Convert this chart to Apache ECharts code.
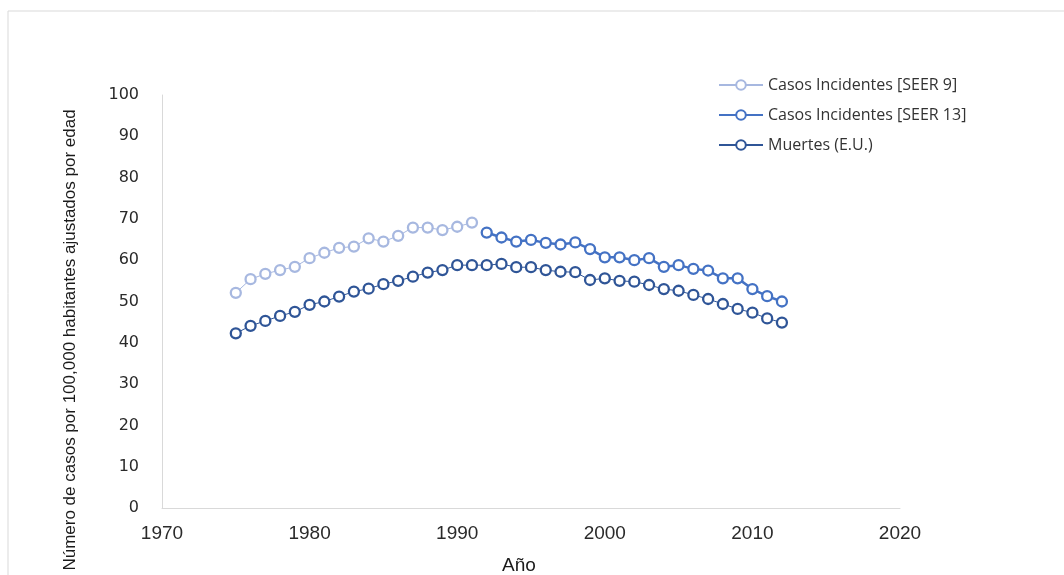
<!DOCTYPE html>
<html>
<head>
<meta charset="utf-8">
<script src="https://cdn.jsdelivr.net/npm/echarts@6/dist/echarts.min.js"></script>
<style>
  html, body { margin: 0; padding: 0; background: #fff; }
  #chart { width: 1064px; height: 575px; }
</style>
</head>
<body>
<div id="chart"></div>
<script>
// Age-adjusted rates per 100,000 inhabitants, by year
const seer9Years = [1975, 1976, 1977, 1978, 1979, 1980, 1981, 1982, 1983, 1984,
                    1985, 1986, 1987, 1988, 1989, 1990, 1991];
const seer9Values = [52.1, 55.4, 56.7, 57.6, 58.4, 60.5, 61.8, 63.0, 63.3, 65.3,
                     64.5, 65.9, 67.9, 67.9, 67.3, 68.1, 69.1];

const seer13Years = [1992, 1993, 1994, 1995, 1996, 1997, 1998, 1999, 2000, 2001,
                     2002, 2003, 2004, 2005, 2006, 2007, 2008, 2009, 2010, 2011, 2012];
const seer13Values = [66.7, 65.5, 64.5, 64.9, 64.2, 63.8, 64.3, 62.7, 60.7, 60.7,
                      60.0, 60.5, 58.4, 58.8, 57.9, 57.5, 55.6, 55.6, 53.0, 51.3, 50.0];

const deathYears = [1975, 1976, 1977, 1978, 1979, 1980, 1981, 1982, 1983, 1984,
                    1985, 1986, 1987, 1988, 1989, 1990, 1991, 1992, 1993, 1994,
                    1995, 1996, 1997, 1998, 1999, 2000, 2001, 2002, 2003, 2004,
                    2005, 2006, 2007, 2008, 2009, 2010, 2011, 2012];
const deathValues = [42.3, 44.1, 45.3, 46.5, 47.5, 49.2, 50.0, 51.2, 52.4, 53.1,
                     54.2, 55.0, 56.0, 57.0, 57.6, 58.8, 58.8, 58.8, 59.1, 58.3,
                     58.3, 57.6, 57.2, 57.1, 55.2, 55.6, 55.0, 54.8, 54.0, 53.0,
                     52.6, 51.6, 50.6, 49.4, 48.2, 47.3, 45.9, 44.9];

const seriesNames = ['Casos Incidentes [SEER 9]', 'Casos Incidentes [SEER 13]', 'Muertes (E.U.)'];
const xTitle = 'Año';
const yTitle = 'Número de casos por 100,000 habitantes ajustados por edad';

const pairs = (xs, ys) => xs.map((x, i) => [x, ys[i]]);

const chart = echarts.init(document.getElementById('chart'), null, { renderer: 'canvas' });

function lineSeries(name, data, color, width) {
  return {
    name: name,
    type: 'line',
    data: data,
    symbol: 'circle',
    symbolSize: 10,
    showSymbol: true,
    itemStyle: { color: '#ffffff', borderColor: color, borderWidth: 2.3 },
    lineStyle: { color: color, width: width },
    emphasis: { disabled: true },
    z: 3
  };
}

chart.setOption({
  animation: false,
  backgroundColor: '#ffffff',
  grid: { left: 162, right: 164, top: 95, bottom: 67, containLabel: false },
  graphic: [
    {
      type: 'rect',
      shape: { x: 8, y: 11, width: 1100, height: 620 },
      style: { fill: 'none', stroke: '#d9d9d9', lineWidth: 1 },
      silent: true
    },
    {
      type: 'text',
      x: 70, y: 340,
      rotation: Math.PI / 2,
      style: {
        text: yTitle,
        fill: '#1a1a1a',
        font: '17px "Liberation Sans", Arial, sans-serif',
        align: 'center',
        verticalAlign: 'middle'
      },
      silent: true
    },
    {
      type: 'text',
      x: 519, y: 566,
      style: {
        text: xTitle,
        fill: '#1a1a1a',
        font: '19px "Liberation Sans", Arial, sans-serif',
        align: 'center',
        verticalAlign: 'middle'
      },
      silent: true
    }
  ],
  legend: {
    orient: 'vertical',
    left: 713,
    top: 72,
    itemWidth: 44,
    itemHeight: 12,
    itemGap: 14,
    selectedMode: false,
    data: seriesNames,
    textStyle: { color: '#333333', fontSize: 16, fontFamily: '"Open Sans", sans-serif' }
  },
  xAxis: {
    type: 'value',
    min: 1970,
    max: 2020,
    interval: 10,
    axisLine: { show: true, lineStyle: { color: '#d9d9d9', width: 1 } },
    axisTick: { show: false },
    splitLine: { show: false },
    axisLabel: {
      color: '#2a2a2a',
      fontSize: 19,
      fontFamily: '"Liberation Sans", Arial, sans-serif',
      margin: 16,
      formatter: (v) => String(v)
    }
  },
  yAxis: {
    type: 'value',
    min: 0,
    max: 100,
    interval: 10,
    axisLine: { show: true, lineStyle: { color: '#d9d9d9', width: 1 } },
    axisTick: { show: false },
    splitLine: { show: false },
    axisLabel: {
      color: '#2a2a2a',
      fontSize: 16,
      fontFamily: '"DejaVu Sans", sans-serif',
      margin: 23
    }
  },
  series: [
    lineSeries(seriesNames[0], pairs(seer9Years, seer9Values), '#a7b8e0', 1),
    lineSeries(seriesNames[1], pairs(seer13Years, seer13Values), '#4472c4', 2.5),
    lineSeries(seriesNames[2], pairs(deathYears, deathValues), '#2f5597', 1)
  ]
});
</script>
</body>
</html>
